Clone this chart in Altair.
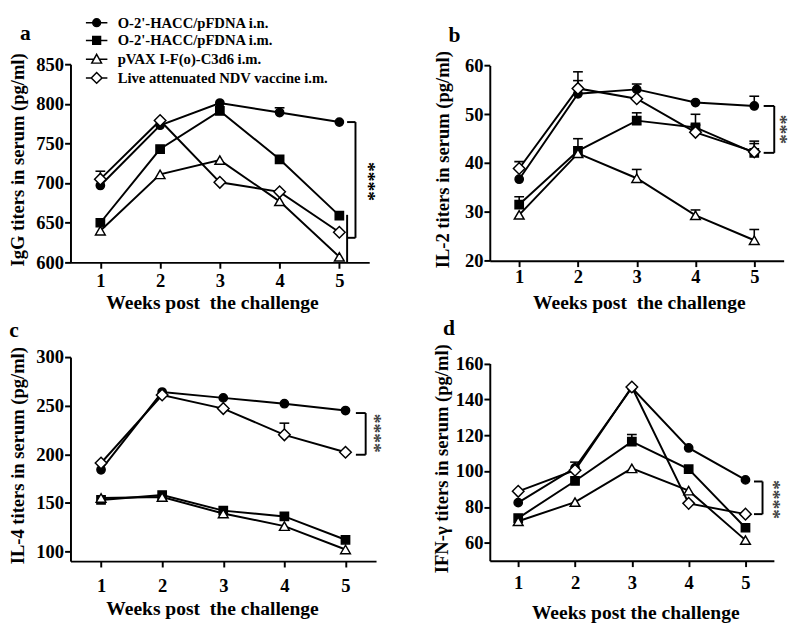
import altair as alt
import pandas as pd

FONT = "Liberation Serif"

weeks = [1, 2, 3, 4, 5]
series = [
    "O-2'-HACC/pFDNA i.n.",
    "O-2'-HACC/pFDNA i.m.",
    "pVAX I-F(o)-C3d6 i.m.",
    "Live attenuated NDV vaccine i.m.",
]
marker_shapes = ["circle", "square", "triangle-up", "diamond"]
marker_fills = ["black", "black", "white", "white"]
marker_sizes = [72, 72, 100, 140]
legend_paths = [
    "M-2.2,0H-0.8M0.8,0H2.2M0.8,0A0.8,0.8,0,1,1,-0.8,0A0.8,0.8,0,1,1,0.8,0Z",
    "M-2.2,0H-0.8M0.8,0H2.2M-0.8,-0.8H0.8V0.8H-0.8Z",
    "M-2.2,0H-0.56M0.56,0H2.2M0,-1L1,0.8H-1Z",
    "M-2.2,0H-1.1M1.1,0H2.2M0,-1.1L1.1,0L0,1.1L-1.1,0Z",
]

# (a) IgG
igg = [[697, 773, 801, 789, 777],
       [650, 743, 791, 730, 659],
       [640, 711, 729, 677, 607],
       [705, 779, 701, 689, 638]]
igg_err = [[0, 0, 0, 6, 0], [0, 0, 0, 0, 0], [0, 0, 0, 0, 0], [10, 0, 0, 0, 0]]
# (b) IL-2
il2 = [[36.7, 54.2, 55.1, 52.4, 51.7],
       [31.5, 42.5, 48.7, 47.3, 42.1],
       [29.4, 42.0, 36.9, 29.3, 24.2],
       [38.9, 55.3, 53.2, 46.3, 42.3]]
il2_err = [[0, 2.7, 1.1, 0, 2.0], [1.6, 2.5, 1.6, 2.7, 2.4],
           [0, 0, 1.8, 1.1, 2.2], [1.4, 3.4, 0, 1.5, 1.7]]
# (c) IL-4
il4 = [[184, 264, 258, 252, 245],
       [153, 158, 142, 136, 112],
       [155, 156, 139, 126, 102],
       [191, 261, 247, 220, 202]]
il4_err = [[0, 0, 0, 0, 0], [0, 0, 0, 0, 0], [0, 0, 0, 0, 0], [0, 0, 0, 12, 0]]
# (d) IFN-gamma
ifn = [[82.4, 101.8, 146.5, 112.9, 95.1],
       [73.8, 94.5, 116.4, 101.1, 68.4],
       [72.0, 82.7, 101.5, 89.1, 61.5],
       [88.7, 100.5, 146.9, 82.0, 76.0]]
ifn_err = [[0, 0, 0, 0, 0], [0, 0, 4, 0, 0], [0, 0, 0, 0, 0], [0, 4.5, 0, 0, 0]]

# significance brackets (data coordinates)
brk_a = {"x": [5.13, 5.27, 5.13, 5.13], "x2": [5.27, 5.27, 5.27, 5.13],
         "y": [777, 777, 631, 660], "y2": [777, 631, 631, 600]}
brk_b = {"x": [5.16, 5.34, 5.16], "x2": [5.34, 5.34, 5.34],
         "y": [51.7, 51.7, 42.1], "y2": [51.7, 42.1, 42.1]}
brk_c = {"x": [5.17, 5.33, 5.17], "x2": [5.33, 5.33, 5.33],
         "y": [242.4, 242.4, 199.5], "y2": [242.4, 199.5, 199.5]}
brk_d = {"x": [5.15, 5.30, 5.15], "x2": [5.30, 5.30, 5.30],
         "y": [94.2, 94.2, 76.0], "y2": [94.2, 76.0, 76.0]}
stars_a = {"x": [5.47], "y": [702], "t": ["****"]}
stars_b = {"x": [5.43], "y": [46.9], "t": ["***"]}
stars_c = {"x": [5.46], "y": [221.6], "t": ["****"]}
stars_d = {"x": [5.49], "y": [84.2], "t": ["****"]}

XT = "Weeks post\u00a0 the challenge"


def make_df(vals, errs):
    rows = []
    for si, name in enumerate(series):
        for wi, wk in enumerate(weeks):
            v = vals[si][wi]
            e = errs[si][wi]
            rows.append({"week": wk, "series": name, "value": v, "err": e,
                         "top": v + e, "shape": marker_shapes[si],
                         "fill": marker_fills[si], "msize": marker_sizes[si]})
    return pd.DataFrame(rows)


def panel(vals, errs, ydom, yticks, ytitle, w, h, letter, ldx, loff,
          ytx, xtitle, xtx, xty, xlp, brk, stars, star_color, legend=False, top=0):
    df = make_df(vals, errs)
    H = h + top
    xs = alt.Scale(domain=[0.5, 5.5], nice=False, zero=False)
    ys = alt.Scale(domain=ydom, nice=False, zero=False, range=[H, top])
    xaxis = alt.Axis(values=weeks, title=xtitle, titleX=xtx, titleY=xty,
                     titleAlign="center", titleBaseline="alphabetic",
                     titleFontSize=20, labelPadding=xlp, format="d",
                     labelFlush=False, labelOverlap=False)
    yaxis = alt.Axis(values=yticks, title=ytitle, titleX=ytx, titleY=top + h / 2 - 4,
                     titleAngle=270, titleAlign="center", titleBaseline="middle",
                     titleFontSize=19, labelPadding=1, format="d",
                     labelOverlap=False)

    def X(f):
        return alt.X(f"{f}:Q", scale=xs, axis=xaxis)

    def Y(f):
        return alt.Y(f"{f}:Q", scale=ys, axis=yaxis)

    base = alt.Chart(df)
    lines = base.mark_line(color="black", strokeWidth=2).encode(
        x=X("week"), y=Y("value"), detail="series:N")
    ebars = base.transform_filter("datum.err > 0").mark_rule(
        color="black", strokeWidth=1.6).encode(x=X("week"), y=Y("value"), y2="top:Q")
    caps = base.transform_filter("datum.err > 0").mark_tick(
        color="black", orient="horizontal", size=10, thickness=1.6, opacity=1).encode(
        x=X("week"), y=Y("top"))
    pts = base.mark_point(filled=True, stroke="black", strokeWidth=1.5, opacity=1).encode(
        x=X("week"), y=Y("value"),
        shape=alt.Shape("shape:N", scale=None),
        fill=alt.Fill("fill:N", scale=None),
        size=alt.Size("msize:Q", scale=None))
    brackets = alt.Chart(pd.DataFrame(brk)).mark_rule(color="black", strokeWidth=2).encode(
        x=X("x"), x2="x2:Q", y=Y("y"), y2="y2:Q")
    st = alt.Chart(pd.DataFrame(stars)).mark_text(
        angle=90, font=FONT, fontSize=20, fontWeight="bold", color=star_color,
        align="center", baseline="middle").encode(x=X("x"), y=Y("y"), text="t:N")
    layers = [lines, ebars, caps, pts, brackets, st]
    if legend:
        leg = alt.Legend(title=None, orient="none", legendX=19.3, legendY=-50,
                         symbolSize=100, symbolStrokeWidth=1.5,
                         symbolStrokeColor="black", symbolOpacity=1,
                         labelFont=FONT, labelFontSize=15, labelFontWeight="bold",
                         labelColor="black", labelOffset=14, rowPadding=2.2,
                         labelLimit=500, padding=0)
        ldf = pd.DataFrame({"series": series})
        lg = alt.Chart(ldf).transform_filter("false").mark_point(
            filled=True, size=100, stroke="black", strokeWidth=1.5, opacity=1).encode(
            shape=alt.Shape("series:N", scale=alt.Scale(domain=series, range=legend_paths), legend=leg),
            fill=alt.Fill("series:N", scale=alt.Scale(domain=series, range=marker_fills), legend=leg))
        layers.append(lg)
    return alt.layer(*layers).properties(
        width=w, height=H,
        title=alt.TitleParams(text=letter, anchor="start", frame="group", orient="top",
                              dx=ldx, offset=loff, fontSize=22, font=FONT,
                              fontWeight="bold", color="black", baseline="alphabetic"))


pa = panel(igg, igg_err, [600, 850], [600, 650, 700, 750, 800, 850],
           "IgG titers in serum (pg/ml)", 306, 203, "a", -51.7, -9,
           -54, XT, 145, 47, 3.4, brk_a, stars_a, "black", legend=True)
pb = panel(il2, il2_err, [20, 60], [20, 30, 40, 50, 60],
           "IL-2 titers in serum (pg/ml)", 301, 200, "b", -42.3, -13.7,
           -48.5, XT, 152.7, 48.5, 1.8, brk_b, stars_b, "#444444", top=1.3)
pc = panel(il4, il4_err, [90, 300], [100, 150, 200, 250, 300],
           "IL-4 titers in serum (pg/ml)", 313, 209, "c", -62.7, -12.3,
           -54, XT, 145, 54.5, 10, brk_c, stars_c, "#444444")
pd_ = panel(ifn, ifn_err, [50, 160], [60, 80, 100, 120, 140, 160],
            "IFN-\u03b3 titers in serum (pg/ml)", 291, 202, "d", -48, -13.1,
            -49.5, "Weeks post the challenge", 149, 59.6, 7.5, brk_d, stars_d,
            "#444444", top=6.6)

chart = alt.concat(
    pa, pb, pc, pd_, columns=2, spacing={"row": 5, "column": 49.5},
    align="each", padding=0, background="white"
).configure_view(stroke=None).configure_axis(
    grid=False, domainColor="black", domainWidth=2, tickColor="black",
    tickWidth=2, tickSize=6, labelFont=FONT, labelFontSize=19,
    labelFontWeight="bold", labelColor="black", titleFont=FONT,
    titleFontWeight="bold", titleColor="black"
)

chart.save("out.html", embed_options={"renderer": "svg", "actions": False})
